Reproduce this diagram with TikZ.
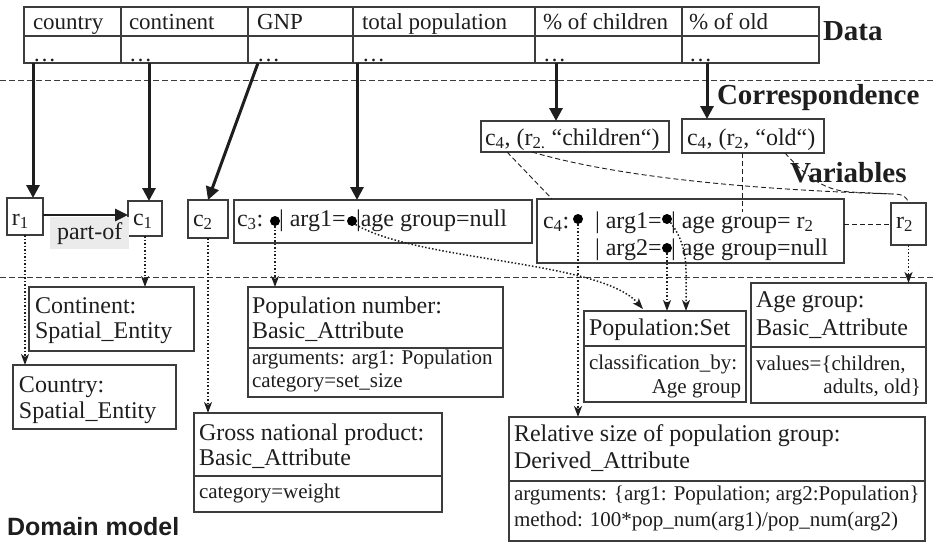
\documentclass[tikz,border=0pt]{standalone}
\usepackage{fontspec}
\setmainfont{Liberation Serif}
\newfontfamily\headsans{Liberation Sans}
\usetikzlibrary{arrows.meta}
\newcommand\fsz[1]{\fontsize{#1}{#1}\selectfont}
\definecolor{ink}{HTML}{1E1E1E}
\definecolor{lc}{HTML}{3C3C3C}
\definecolor{gbg}{HTML}{EBEBEB}
\begin{document}
\begin{tikzpicture}[x=1pt,y=-1pt,
  bx/.style={draw=lc, line width=1.2pt, inner sep=0pt, outer sep=0pt, anchor=north west},
  tx/.style={anchor=base west, inner sep=0pt, outer sep=0pt, text=ink, font=\fsz{24}},
  sm/.style={tx, font=\fsz{21}},
  tb/.style={tx, font=\fsz{23}},
  boldlbl/.style={tx, font=\fsz{29}\bfseries},
  bul/.style={circle, fill=black, inner sep=0pt, outer sep=0pt, minimum size=10pt},
  thickarrow/.style={line width=3pt, draw=ink, -{Triangle[length=13pt,width=13pt]}},
  dotarrow/.style={line width=1.5pt, draw=ink, dash pattern=on 1.5pt off 2pt, -{Stealth[length=11pt,width=8pt,inset=3pt]}},
  link/.style={line width=0.9pt, draw=ink, dash pattern=on 5pt off 3pt},
  sepline/.style={line width=1pt, draw=lc, dash pattern=on 6pt off 3pt},
  divline/.style={draw=lc, line width=1.2pt}]
\useasboundingbox (0,0) rectangle (934,542);

% separators
\draw[sepline] (0,80) -- (934,80);
\draw[sepline] (0,277) -- (934,277);

% data table
\node[bx, minimum width=795pt, minimum height=56pt] (tbl) at (24,7) {};
\draw[divline] (24,36) -- (819,36);
\foreach \xx in {121,248,353,535,682} \draw[divline] (\xx,7) -- (\xx,63);
\node[tb] (h1) at (33,29) {country};
\node[tb] (h2) at (129,29) {continent};
\node[tb] (h3) at (257,29) {GNP};
\node[tb] (h4) at (362,29) {total population};
\node[tb] (h5) at (543,29) {\% of children};
\node[tb] (h6) at (689,29) {\% of old};
\node[tb] (d1) at (33,61) {…};
\node[tb] (d2) at (129,61) {…};
\node[tb] (d3) at (257,61) {…};
\node[tb] (d4) at (362,61) {…};
\node[tb] (d5) at (543,61) {…};
\node[tb] (d6) at (689,61) {…};
\coordinate (s1) at (33,63);
\coordinate (s2) at (149,63);
\coordinate (s3) at (258,63);
\coordinate (s4) at (357,63);
\coordinate (s5) at (556,63);
\coordinate (s6) at (707,63);

% section labels
\node[boldlbl] (lData) at (823,40.5) {Data};
\node[boldlbl] (lCorr) at (717,104) {Correspondence};
\node[boldlbl] (lVar) at (790,182) {Variables};
\node[tx, font=\fsz{25}\headsans\bfseries] (lDom) at (7,535) {Domain model};

% correspondence boxes
\node[bx, minimum width=188pt, minimum height=31pt] (ch) at (481,121) {};
\node[tx] (chT) at (485,145) {c\textsubscript{4}, (r\textsubscript{2.} “children“)};
\node[bx, minimum width=142pt, minimum height=34pt] (old) at (682,119) {};
\node[tx] (oldT) at (687,145) {c\textsubscript{4}, (r\textsubscript{2}, “old“)};

% variables
\node[bx, minimum width=36pt, minimum height=37pt] (r1) at (7,198) {};
\node[tx] (r1T) at (12,225) {r\textsubscript{1}};
\node[bx, minimum width=34pt, minimum height=35pt] (c1) at (128,201) {};
\node[tx] (c1T) at (133,225) {c\textsubscript{1}};
\node[bx, minimum width=40pt, minimum height=38pt] (c2) at (188,200) {};
\node[tx] (c2T) at (193,226) {c\textsubscript{2}};
\node[fill=gbg, inner sep=0pt, anchor=north west, minimum width=79pt, minimum height=32pt, text=ink, font=\fsz{24}] (partof) at (50,217) {part-of};

\node[bx, minimum width=298pt, minimum height=43pt] (c3) at (234,200) {};
\node[tx] (c3a) at (237,226) {c\textsubscript{3}:};
\node[bul] (b1) at (275,221) {};
\node[tx] (c3b) at (279,226) {| arg1=};
\node[bul] (b2) at (352,221) {};
\node[tx] (c3c) at (356,226) {|age group=null};

\node[bx, minimum width=307pt, minimum height=64pt] (c4) at (537,199) {};
\node[tx] (c4a) at (543,228) {c\textsubscript{4}:};
\node[bul] (b3) at (578,219) {};
\node[tx] (c4b) at (595,228) {| arg1=};
\node[bul] (b4) at (667,219) {};
\node[tx] (c4c) at (671,228) {| age group= r\textsubscript{2}};
\node[tx] (c4d) at (595,255) {| arg2=};
\node[bul] (b5) at (667,248) {};
\node[tx] (c4e) at (671,255) {| age group=null};

\node[bx, minimum width=35pt, minimum height=42pt] (r2) at (891,203) {};
\node[tx] (r2T) at (896,228) {r\textsubscript{2}};

% domain model boxes
\node[bx, minimum width=165pt, minimum height=64pt] (cont) at (29,287) {};
\node[tx] (contA) at (35,313) {Continent:};
\node[tx] (contB) at (35,338) {Spatial\_Entity};

\node[bx, minimum width=163pt, minimum height=64pt] (ctry) at (13,365) {};
\node[tx] (ctryA) at (19,392) {Country:};
\node[tx] (ctryB) at (19,418) {Spatial\_Entity};

\node[bx, minimum width=255pt, minimum height=110pt] (popnum) at (248,287) {};
\draw[divline] (248,348) -- (503,348);
\node[tx] (pnA) at (252,313) {Population number:};
\node[tx] (pnB) at (252,338) {Basic\_Attribute};
\node[sm] (pnC) at (252,364) {arguments: arg1: Population};
\node[sm] (pnD) at (252,387) {category=set\_size};

\node[bx, minimum width=248pt, minimum height=99pt] (gross) at (194,413) {};
\draw[divline] (194,476) -- (442,476);
\node[tx] (grA) at (199,440) {Gross national product:};
\node[tx] (grB) at (199,465) {Basic\_Attribute};
\node[sm] (grC) at (199,498) {category=weight};

\node[bx, minimum width=162pt, minimum height=91pt] (popset) at (584,311) {};
\draw[divline] (584,346) -- (746,346);
\node[tx] (psA) at (589,335) {Population:Set};
\node[sm] (psB) at (589,369) {classification\_by:};
\node[sm, anchor=base east] (psC) at (741,393) {Age group};

\node[bx, minimum width=175pt, minimum height=120pt] (agegrp) at (751,283) {};
\draw[divline] (751,347) -- (926,347);
\node[tx] (agA) at (756,307) {Age group:};
\node[tx] (agB) at (756,335) {Basic\_Attribute};
\node[sm] (agC) at (756,370) {values=\{children,};
\node[sm, anchor=base east] (agD) at (921,393) {adults, old\}};

\node[bx, minimum width=416pt, minimum height=124pt] (rel) at (509,417) {};
\draw[divline] (509,481) -- (925,481);
\node[tx] (rlA) at (514,441) {Relative size of population group:};
\node[tx] (rlB) at (514,468) {Derived\_Attribute};
\node[sm] (rlC) at (514,500) {arguments: \{arg1: Population; arg2:Population\}};
\node[sm] (rlD) at (514,526) {method: 100*pop\_num(arg1)/pop\_num(arg2)};

% thick arrows
\draw[thickarrow] (s1) -- (s1 |- r1.north);
\draw[thickarrow] (s2) -- (s2 |- c1.north);
\draw[thickarrow] (s3) -- (c2.north);
\draw[thickarrow] (s4) -- (s4 |- c3.north);
\draw[thickarrow] (s5) -- (s5 |- ch.north);
\draw[thickarrow] (s6) -- (s6 |- old.north);
\draw[line width=2.6pt, draw=ink, -{Triangle[length=13pt,width=12pt]}] (r1.east |- 0,215) -- (c1.west |- 0,215);

% dotted arrows
\draw[dotarrow] (r1.south) -- (r1.south |- ctry.north);
\draw[dotarrow] (c1.south) -- (c1.south |- cont.north);
\draw[dotarrow] (c2.south) -- (c2.south |- gross.north);
\draw[dotarrow] (b1.south) -- (b1.south |- popnum.north);
\coordinate (k0) at (643,309);
\draw[dotarrow] (b2.south east) .. controls (420,262) and (600,260) .. (k0);
\draw[dotarrow] (b3.south) -- (b3.south |- rel.north);
\coordinate (k1) at (686,272);
\draw[dotarrow] (b4.south east) .. controls (680,235) and (686,250) .. (k1) -- (k1 |- popset.north);
\draw[dotarrow] (b5.south) -- (b5.south |- popset.north);
\draw[dotarrow] (r2.south) -- (r2.south |- agegrp.north);

% correspondence links
\draw[link] (507,0 |- ch.south) -- (552,0 |- c4.north);
\coordinate (m1) at (893,194);
\draw[link] (532,0 |- ch.south) .. controls (620,178) and (760,190) .. (m1) .. controls (903,194) and (907,197) .. (r2.north);
\coordinate (e1) at (742,212);
\draw[link] (742,0 |- old.south) -- (e1);
\draw[link] (785,0 |- old.south) .. controls (805,175) and (822,190) .. (850,192) -- (m1);
\draw[link] (c4.east |- r2.west) -- (r2.west);
\end{tikzpicture}
\end{document}
